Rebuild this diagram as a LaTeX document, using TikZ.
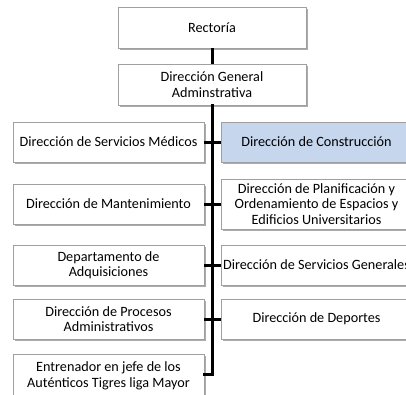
\documentclass[tikz,border=0pt]{standalone}
\usepackage{fontspec}
\setmainfont{Carlito}
\usetikzlibrary{shadows}
\definecolor{boxline}{RGB}{160,160,160}
\definecolor{boxshadow}{RGB}{150,150,150}
\definecolor{bluefill}{RGB}{197,214,237}
\begin{document}
\begin{tikzpicture}[x=1pt,y=-1pt,
  orgbox/.style={draw=boxline, line width=0.8pt, fill=white, align=center,
    inner sep=0pt, minimum width=191pt, minimum height=40pt,
    font=\fontsize{14.2}{15.5}\selectfont,
    drop shadow={shadow xshift=1.6pt, shadow yshift=-1.6pt, fill=boxshadow, opacity=0.8}},
  topbox/.style={orgbox, minimum width=188pt, minimum height=41pt},
  bluebox/.style={orgbox, fill=bluefill},
  link/.style={line width=3pt, black}]
\useasboundingbox (0,0) rectangle (406,394);
\clip (0,0) rectangle (406,394);
\fill[white] (0,0) rectangle (406,394);
\node[topbox] (rect) at (212,27.5) {Rectoría};
\node[topbox] (dg) at (212,84.5) {Dirección General\\Adminstrativa};
\node[orgbox] (l1) at (108.5,142) {Dirección de Servicios Médicos};
\node[orgbox] (l2) at (108.5,204) {Dirección de Mantenimiento};
\node[orgbox] (l3) at (108.5,265) {Departamento de\\Adquisiciones};
\node[orgbox] (l4) at (108.5,319) {Dirección de Procesos\\Administrativos};
\node[orgbox, minimum height=44pt] (l5) at (108.5,376) {Entrenador en jefe de los\\Auténticos Tigres liga Mayor};
\node[bluebox] (r1) at (316.5,142) {Dirección de Construcción};
\node[orgbox, minimum height=50pt] (r2) at (316.5,204) {Dirección de Planificación y\\Ordenamiento de Espacios y\\Edificios Universitarios};
\node[orgbox] (r3) at (316.5,265) {Dirección de Servicios Generales};
\node[orgbox] (r4) at (316.5,319) {Dirección de Deportes};
\coordinate (trunkend) at (212,374);
\draw[link] (rect.south) -- (dg.north);
\draw[link, line cap=rect] (dg.south) -- (trunkend);
\draw[link] (l1.east) -- (r1.west);
\draw[link] (l2.east) -- (r2.west);
\draw[link] (l3.east) -- (r3.west);
\draw[link] (l4.east) -- (r4.west);
\draw[link, line cap=rect] (l5.east |- trunkend) -- (trunkend);
\end{tikzpicture}
\end{document}
